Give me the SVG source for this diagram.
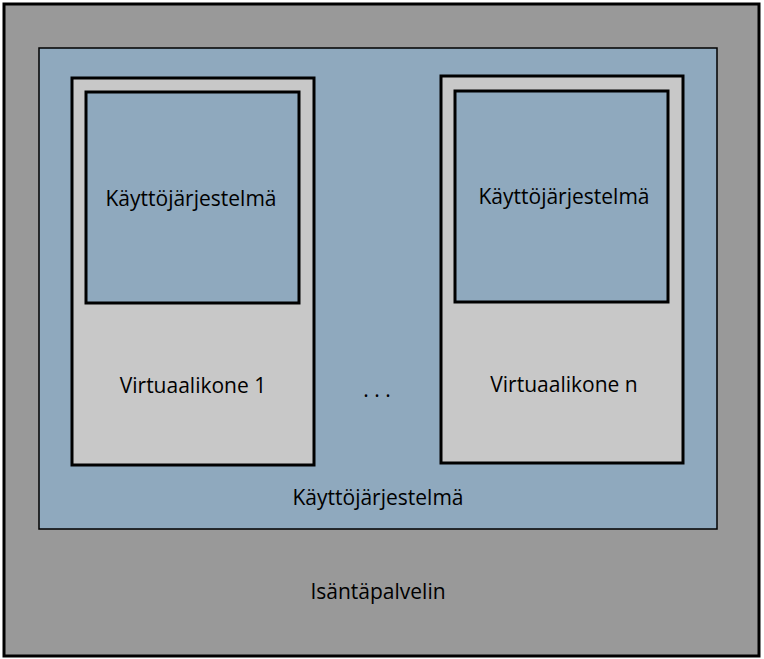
<svg xmlns="http://www.w3.org/2000/svg" width="764" height="659" viewBox="0 0 764 659">
<style>
text{font-family:"Open Sans","Liberation Sans",sans-serif;font-size:21px;fill:#000;text-anchor:middle}
.blue{fill:#8fa9be}
.vm{fill:#c8c8c8;stroke:#000;stroke-width:3}
.os{fill:#8fa9be;stroke:#000;stroke-width:3}
</style>
<g id="host"><rect x="4" y="4" width="755" height="652" fill="#999999" stroke="#000" stroke-width="3"/><text x="378" y="599">Isäntäpalvelin</text></g>
<g id="hostos"><rect x="39" y="48" width="678" height="481" class="blue" stroke="#000" stroke-width="1.5"/><text x="378" y="505">Käyttöjärjestelmä</text></g>
<g id="vm1"><rect x="72" y="78" width="242" height="387" class="vm"/><text x="193" y="393">Virtuaalikone 1</text></g>
<g id="os1"><rect x="86" y="92" width="213" height="211" class="os"/><text x="191" y="206">Käyttöjärjestelmä</text></g>
<g id="dots"><text x="377" y="397">. . .</text></g>
<g id="vmn"><rect x="441" y="76" width="242" height="387" class="vm"/><text x="564" y="392">Virtuaalikone n</text></g>
<g id="osn"><rect x="455" y="91" width="213" height="211" class="os"/><text x="564" y="204">Käyttöjärjestelmä</text></g>
<g id="connectors"/>
</svg>
